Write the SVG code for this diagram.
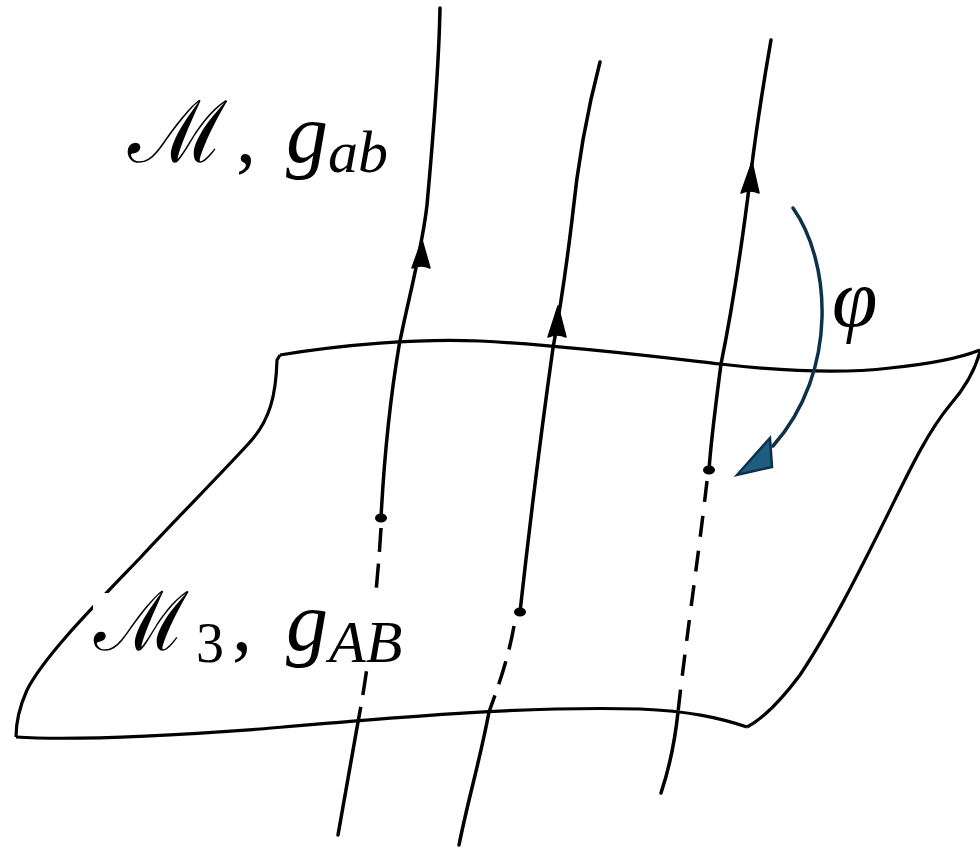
<svg xmlns="http://www.w3.org/2000/svg" width="980" height="848" viewBox="0 0 980 848">
<defs>
<style>
.ln{fill:none;stroke:#000;stroke-width:3.5;stroke-linecap:round;stroke-linejoin:round}
.dash{fill:none;stroke:#000;stroke-width:3.5;stroke-dasharray:24 12}
.dash3{fill:none;stroke:#000;stroke-width:3.5;stroke-dasharray:21 14}
.edge{fill:none;stroke:#000;stroke-width:3.2;stroke-linejoin:round}
.ah{fill:#000;stroke:#000;stroke-width:1.5;stroke-linejoin:round}
.pt{fill:#000}
.lbl{font-family:"Liberation Serif","DejaVu Serif",serif;fill:#000}
.cal{font-family:"DejaVu Serif","Liberation Serif",serif;font-style:normal}
.it{font-style:italic}
</style>
</defs>
<rect width="980" height="848" fill="#fff"/>
<g id="surface">
<path class="edge" d="M280,355 C340,345 420,338 480,341 C560,345 650,356 720,364 C780,371 840,374 890,368 C930,364 960,358 980,350"/>
<path class="edge" d="M280,355 L277,360 C276,395 270,420 250,442 C220,475 175,520 140,558 C95,605 45,655 27,690 C19,708 16,725 16,737"/>
<path class="edge" d="M16,737 C60,740 150,737 260,729 C400,717 520,706 640,709 C690,711 720,718 747,727"/>
<path class="edge" d="M747,727 Q770,715 800,675 C830,630 860,570 880,530 C905,480 925,435 950,405 C965,388 975,370 980,352"/>
</g>
<g id="connectors">
<g id="line1">
<path class="ln" d="M440,8 C439,60 432,150 427,205 C422,250 408,300 399,346 C390,400 384,460 381,518"/>
<path class="dash" d="M381,528 C378,580 370,660 358,722"/>
<path class="ln" d="M358,722 L338,835"/>
<path class="ah" d="M422,240 L412,268 Q421,264 430,268 Z"/>
<ellipse class="pt" cx="381" cy="518" rx="6" ry="4.5"/>
</g>
<g id="line2">
<path class="ln" d="M600,62 C590,100 578,160 572,220 C566,270 560,310 553,348 C540,440 528,540 520,612"/>
<path class="dash" d="M514,626 C508,660 497,690 489,712"/>
<path class="ln" d="M489,712 C480,760 468,800 459,845"/>
<path class="ah" d="M558,306 L548,337 Q557,333 566,337 Z"/>
<ellipse class="pt" cx="520" cy="612" rx="6" ry="4.5"/>
</g>
<g id="line3">
<path class="ln" d="M771,40 C764,80 756,130 750,180 C740,260 730,320 721,364 C715,410 711,440 709,470"/>
<path class="dash3" d="M707,481 C698,560 686,640 678,712"/>
<path class="ln" d="M678,712 C674,750 668,772 661,793"/>
<path class="ah" d="M752,162 L741,193 Q750,189 759,193 Z"/>
<ellipse class="pt" cx="709" cy="470" rx="6" ry="4.5"/>
</g>
<g id="phi-arrow">
<path d="M793,208 C830,260 840,370 773,446" fill="none" stroke="#0d3148" stroke-width="3.5" stroke-linecap="round"/>
<path d="M737,475 L770,438 L772,467 Z" fill="#1d5e80" stroke="#0d3148" stroke-width="2.5" stroke-linejoin="miter"/>
</g>
</g>
<g id="label-M">
<text class="lbl" y="162"><tspan class="cal" x="128" font-size="86">ℳ</tspan><tspan x="236" font-size="80">,</tspan><tspan class="it" x="286" font-size="84">g</tspan><tspan class="it" x="328" y="172" font-size="60">ab</tspan></text>
</g>
<g id="label-M3">
<rect x="93" y="593" width="327" height="75" fill="#fff"/>
<text class="lbl" y="650"><tspan class="cal" x="94" font-size="82">ℳ</tspan><tspan x="196" y="662" font-size="56">3</tspan><tspan x="232" y="650" font-size="80">,</tspan><tspan class="it" x="286" font-size="84">g</tspan><tspan class="it" x="329" y="662" font-size="60">AB</tspan></text>
</g>
<g id="label-phi">
<text class="lbl it" x="832" y="326" font-size="82">φ</text>
</g>
</svg>
